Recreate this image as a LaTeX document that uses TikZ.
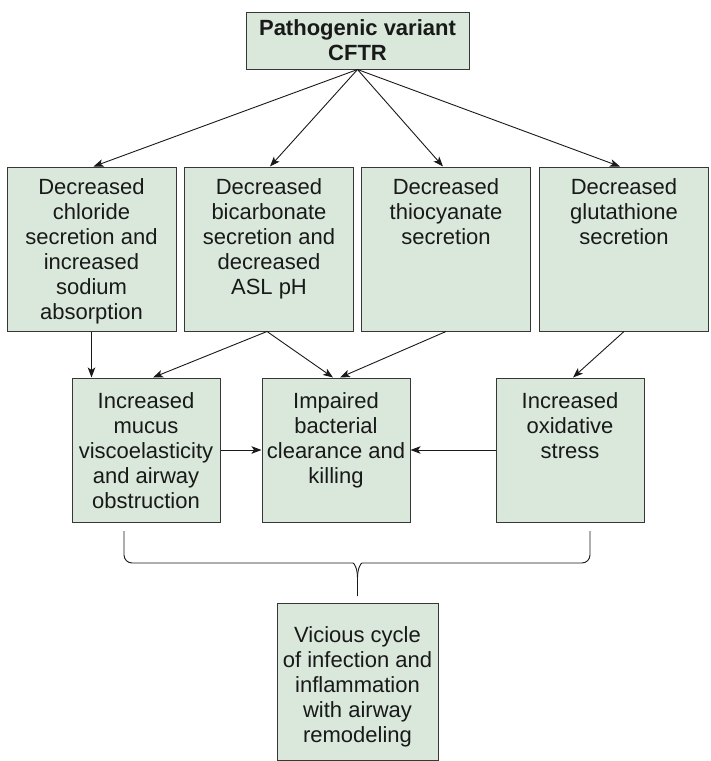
\documentclass[tikz,border=0pt]{standalone}
\usepackage{fontspec}
\setmainfont{Liberation Sans}
\usetikzlibrary{arrows.meta}

\definecolor{boxfill}{RGB}{217,232,219}
\definecolor{boxline}{RGB}{55,55,55}
\definecolor{inkcol}{RGB}{25,25,25}

% top-aligned lines of a box
\newcommand{\boxlines}[1]{\begin{tabular}[t]{@{}c@{}}#1\end{tabular}}

\begin{document}
\begin{tikzpicture}[
  x=1pt, y=-1pt,
  box/.style={draw=boxline, line width=1pt, fill=boxfill, inner sep=0pt, text=inkcol, font=\fontsize{22}{25}\selectfont},
  origin/.style={box, minimum width=223pt, text height=23pt, text depth=34pt, font=\fontsize{22}{25}\selectfont\bfseries},
  cause/.style={box, minimum width=169pt, text height=27pt, text depth=137pt},
  effect/.style={box, minimum width=148pt, text height=30pt, text depth=114pt},
  outcome/.style={box, minimum width=161pt, text height=39pt, text depth=118pt},
  link/.style={draw=inkcol, line width=0.9pt, -{Stealth[length=10pt,width=7.5pt,inset=2.5pt]}},
  brace/.style={draw=inkcol, line width=0.9pt}
]
\useasboundingbox (0,0) rectangle (711,761);

% Source
\node[origin] (cftr) at (357.5,40.5) {\boxlines{Pathogenic variant\\CFTR}};

% Direct consequences
\node[cause] (chl) at (91.5,249) {\boxlines{Decreased\\chloride\\secretion and\\increased\\sodium\\absorption}};
\node[cause] (bic) at (269,249) {\boxlines{Decreased\\bicarbonate\\secretion and\\decreased\\ASL pH}};
\node[cause] (thi) at (446,249) {\boxlines{Decreased\\thiocyanate\\secretion}};
\node[cause] (glu) at (624,249) {\boxlines{Decreased\\glutathione\\secretion}};

% Downstream effects
\node[effect] (muc) at (146,450) {\boxlines{Increased\\mucus\\viscoelasticity\\and airway\\obstruction}};
\node[effect] (bac) at (336,450) {\boxlines{Impaired\\bacterial\\clearance and\\killing}};
\node[effect] (oxi) at (570,450) {\boxlines{Increased\\oxidative\\stress}};

% Outcome
\node[outcome] (cyc) at (357.5,681.5) {\boxlines{Vicious cycle\\of infection and\\inflammation\\with airway\\remodeling}};

% Source arrows
\draw[link] (cftr.south) -- ([xshift=2pt]chl.north);
\draw[link] (cftr.south) -- ([xshift=1pt]bic.north);
\draw[link] (cftr.south) -- ([xshift=-3pt]thi.north);
\draw[link] (cftr.south) -- ([xshift=-4pt]glu.north);

% Consequence arrows
\draw[link] (chl.south) -- (chl.south |- muc.north);
\draw[link] ([xshift=-2pt]bic.south) -- ([xshift=7pt]muc.north);
\draw[link] ([xshift=-2pt]bic.south) -- ([xshift=-3pt]bac.north);
\draw[link] (thi.south) -- ([xshift=4pt]bac.north);
\draw[link] (glu.south) -- ([xshift=3pt]oxi.north);
\draw[link] (muc.east) -- (bac.west);
\draw[link] (oxi.west) -- (bac.east);

% Brace
\coordinate (bl) at (124,531);
\coordinate (br) at (590,531);
\coordinate (cusp) at (357.5,578);
\coordinate (tip) at (357.5,596);
\draw[brace] (bl) [rounded corners=8pt] -- (124,563) -- (345,563) [sharp corners] .. controls (354,563) and (357.5,568) .. (cusp) -- (tip);
\draw[brace] (br) [rounded corners=8pt] -- (590,563) -- (370,563) [sharp corners] .. controls (361,563) and (357.5,568) .. (cusp);
\end{tikzpicture}
\end{document}
